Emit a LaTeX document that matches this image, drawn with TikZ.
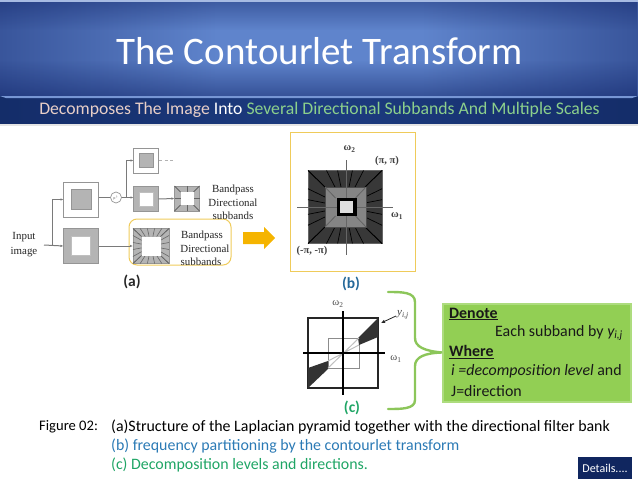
\documentclass[tikz,border=0pt]{standalone}
\usepackage{fontspec}
\setmainfont{Carlito}
\newfontfamily\serifface{Liberation Serif}
\usetikzlibrary{arrows.meta,calc,fadings}
\definecolor{bandedge}{HTML}{12266A}
\definecolor{bandmid}{HTML}{5F84CC}
\definecolor{subedge}{HTML}{10265F}
\definecolor{submid}{HTML}{1D3C80}
\definecolor{lineg}{HTML}{7A7A7A}
\definecolor{boxg}{HTML}{B4B4B4}
\definecolor{boxedge}{HTML}{959595}
\definecolor{frameyel}{HTML}{EFCB5A}
\definecolor{arrowyel}{HTML}{F5B400}
\definecolor{gbrace}{HTML}{8CC65A}
\definecolor{gfill}{HTML}{92CF54}
\definecolor{gedge}{HTML}{ADDC7E}
\definecolor{capblue}{HTML}{2B7AB5}
\definecolor{capgreen}{HTML}{1FA565}
\definecolor{subpink}{HTML}{E8CFC8}
\definecolor{subgreen}{HTML}{8CD08C}
\pgfdeclarehorizontalshading{bandshade}{100bp}{
  color(0bp)=(bandedge); color(8bp)=(bandedge!92!bandmid); color(25bp)=(bandedge!50!bandmid);
  color(42bp)=(bandmid); color(58bp)=(bandmid); color(75bp)=(bandedge!50!bandmid); color(92bp)=(bandedge!92!bandmid); color(100bp)=(bandedge)}
\pgfdeclarehorizontalshading{subshade}{100bp}{
  color(0bp)=(subedge); color(25bp)=(subedge!70!submid); color(50bp)=(submid); color(75bp)=(subedge!70!submid); color(100bp)=(subedge)}
\tikzset{
  conn/.style={draw=lineg,line width=1pt,-{Latex[length=3pt,width=2.5pt]}},
  plainline/.style={draw=lineg,line width=1pt},
  whitebox/.style={draw=boxedge,fill=white,line width=1pt,minimum width=#1,inner sep=0pt,outer sep=0pt,minimum height=#1},
  greybox/.style={draw=boxedge,fill=boxg,line width=1pt,minimum width=#1,inner sep=0pt,outer sep=0pt,minimum height=#1},
  greyin/.style={draw=boxedge,fill=boxg,line width=0.6pt,minimum width=#1,inner sep=0pt,minimum height=#1},
  whitein/.style={draw=boxedge!60,fill=white,line width=0.6pt,minimum width=#1,inner sep=0pt,minimum height=#1},
  serif/.style={font=\serifface\fontsize{10.9}{12}\selectfont,text=black!85,inner sep=0pt},
  capt/.style={font=\fontsize{15.9}{18}\selectfont,inner sep=0pt,anchor=west},
  greentxt/.style={font=\fontsize{15.9}{18}\selectfont,inner sep=0pt,anchor=west,text=black!90},
  tag/.style={font=\bfseries\fontsize{15.5}{18}\selectfont,inner sep=0pt},
  axlabel/.style={font=\serifface\bfseries\fontsize{10.5}{12}\selectfont,text=black!75,inner sep=0pt},
}
% spokes between a centred inner and outer rectangle
\newcommand{\spokes}[7]{%
  \foreach \t in {#7}{%
    \draw (#1+\t*#5,#2-#6) -- (#1+\t*#3,#2-#4);
    \draw (#1+\t*#5,#2+#6) -- (#1+\t*#3,#2+#4);
    \draw (#1-#5,#2+\t*#6) -- (#1-#3,#2+\t*#4);
    \draw (#1+#5,#2+\t*#6) -- (#1+#3,#2+\t*#4);
  }}
\begin{document}
\begin{tikzpicture}[x=1pt,y=-1pt]
\useasboundingbox (0,0) rectangle (638,479);
% header
\shade[shading=bandshade] (0,0) rectangle (638,97);
\fill[bandedge,opacity=0.55,path fading=north] (0,60) rectangle (638,97);
\fill[bandedge,opacity=0.45,path fading=south] (0,0) rectangle (638,30);
\fill[white!45!bandmid] (0,0) rectangle (638,1.5);
\shade[shading=subshade] (0,96) rectangle (638,124);
\fill[bandmid!85!white] (0,96) -- (638,96) -- (632,98) -- (6,98) -- cycle;
\fill[black!10] (0,124) rectangle (638,125.5);
\node[text=white,font=\fontsize{39}{42}\selectfont,inner sep=0pt] (title) at (319.5,51) {The Contourlet Transform};
\node[font=\fontsize{17.7}{20}\selectfont,inner sep=0pt] (subtitle) at (319.5,110) {\textcolor{subpink}{Decomposes The Image} \textcolor{white}{Into} \textcolor{subgreen}{Several Directional Subbands And Multiple Scales}};
% (a) pyramid
\node[draw=frameyel,line width=1pt,rounded corners=8pt,minimum width=102pt,minimum height=46pt,inner sep=0pt] (sel) at (180,242) {};
\node[whitebox=35pt] (upA) at (81,199.5) {};
\node[greyin=20pt] (upAin) at (81,199.5) {};
\node[greybox=35pt] (lowA) at (81,246) {};
\node[whitein=19pt] (lowAin) at (81,246) {};
\node[whitebox=25pt] (topB) at (146,160.5) {};
\node[greyin=14pt] (topBin) at (146,160.5) {};
\node[greybox=25pt] (midB) at (146,199) {};
\node[whitein=14pt] (midBin) at (146,199) {};
\node[greybox=25pt] (midC) at (187,198.5) {};
\begin{scope}[draw=black!60,line width=0.6pt]
\spokes{187}{198.5}{12.5}{12.5}{6.5}{6.5}{-1,0,1}
\end{scope}
\node[whitein=13pt,draw=none] (midCin) at (187,198.5) {};
\node[greybox=35pt,minimum width=36pt] (lowC) at (151,246) {};
\begin{scope}[draw=black!60,line width=0.6pt]
\spokes{151}{246}{18}{17.5}{9.5}{9.5}{-1,-0.6,-0.2,0.2,0.6,1}
\end{scope}
\node[whitein=19pt,draw=none] (lowCin) at (151,246) {};
\node[draw=boxedge,fill=white,circle,line width=0.7pt,minimum size=11pt,inner sep=0pt] (down) at (116,197.5) {};
\node[font=\fontsize{4}{4}\selectfont,text=black!60,inner sep=0pt] (downt) at (116,197.5) {p\textsuperscript{↓}};
\coordinate (inp) at (44,245);
\coordinate (forkA) at (52,245);
\coordinate (forkB) at (126,197.5);
\coordinate (dashS) at (159,160);
\coordinate (dashE) at (174,160);
\draw[conn] (inp) -- (lowA.west);
\draw[conn] (forkA) |- (upA.west);
\draw[plainline] (upA.east |- down) -- (down.west);
\draw[conn] (down.east) -- (midB.west |- down);
\draw[conn] (forkB) |- (topB.west);
\draw[conn] (midB.east) -- (midC.west);
\draw[conn] (lowA.east) -- (lowC.west);
\draw[draw=black!30,line width=0.8pt,dash pattern=on 3pt off 2.5pt] (dashS) -- (dashE);
\node[serif] (inputa) at (24,237.5) {Input};
\node[serif] (inputb) at (24,252.5) {image};
\node[serif] (ba1) at (233,190) {Bandpass};
\node[serif] (ba2) at (233,203) {Directional};
\node[serif] (ba3) at (233,215.5) {subbands};
\node[serif] (bb1) at (202,236) {Bandpass};
\node[serif] (bb2) at (205,248.5) {Directional};
\node[serif] (bb3) at (201,261.5) {subbands};
\fill[arrowyel] (243,232) -- (264,232) -- (264,227) -- (275,238) -- (264,249) -- (264,244) -- (243,244) -- cycle;
\node[tag,text=black!85] (taga) at (132,282) {(a)};
% (b)
\node[draw=frameyel,line width=1pt,minimum width=125pt,minimum height=139pt,inner sep=0pt] (frameb) at (352.5,202) {};
\node[draw=black!60,fill=black!78,minimum width=74pt,minimum height=73pt,inner sep=0pt] (bA) at (345,207) {};
\begin{scope}[draw=black,line width=0.7pt]
\spokes{345}{207}{37}{36.5}{20}{20}{-1,-0.5,-0.2,0.2,0.5,1}
\end{scope}
\node[draw=black!70,fill=black!48,minimum width=41pt,minimum height=40pt,inner sep=0pt] (bB) at (345.5,207) {};
\begin{scope}[draw=black!60,line width=0.6pt]
\spokes{345.5}{207}{20.5}{20}{10}{9}{-1,1}
\end{scope}
\draw[draw=black!60,line width=0.8pt] (297,207) -- (393,207) (346,160) -- (346,255);
\node[fill=black,minimum width=20pt,minimum height=18pt,inner sep=0pt] (bC) at (347,207) {};
\node[fill=black!13,minimum width=13pt,minimum height=12pt,inner sep=0pt] (bD) at (346.5,207) {};
\node[axlabel] (bw2) at (349.5,149) {ω\textsubscript{2}};
\node[axlabel] (bpp) at (387,161) {(π, π)};
\node[axlabel] (bw1) at (397,216) {ω\textsubscript{1}};
\node[axlabel] (bmm) at (312,251) {(-π, -π)};
\node[tag,text=capblue!85!black] (tagb) at (351,284) {(b)};
% (c)
\node[draw=black!85,line width=1.3pt,minimum width=70pt,minimum height=70pt,inner sep=0pt] (cA) at (343,353) {};
\node[draw=black!45,line width=1pt,minimum width=31pt,minimum height=30pt,inner sep=0pt] (cB) at (343.5,353) {};
\fill[black!80] (378,318) -- (378,337) -- (359,345) -- (358,338) -- cycle;
\fill[black!80] (308,368) -- (308,388) -- (328,369) -- (328,361) -- cycle;
\draw[draw=black!25,line width=1pt] (328,368) -- (359,338) (328,361) -- (359,345);
\draw[draw=black,line width=1.2pt] (303,353) -- (385,353) (343,311) -- (343,395);
\node[font=\serifface\fontsize{10.5}{12}\selectfont,text=black!70,inner sep=0pt] (cw2) at (338,304) {ω\textsubscript{2}};
\node[font=\serifface\fontsize{10.5}{12}\selectfont,text=black!70,inner sep=0pt] (cw1) at (396,359) {ω\textsubscript{1}};
\node[font=\serifface\itshape\fontsize{11}{12}\selectfont,text=black!75,inner sep=0pt] (cy) at (403,315) {y\textsubscript{i,j}};
\coordinate (cyend) at (381,323);
\draw[-{Latex[length=4pt,width=3.5pt]},line width=0.8pt,black!85] (cy.west) ++(-1,1) -- (cyend);
\node[tag,text=capgreen] (tagc) at (352,408) {(c)};
% brace
\node[draw=gedge,fill=gfill,line width=2pt,minimum width=188pt,minimum height=98pt,inner sep=0pt] (gbox) at (537,352.5) {};
\coordinate (brT) at (388,292);
\coordinate (brB) at (388,409);
\draw[draw=gbrace,line width=2.4pt,line cap=round]
  (brT) .. controls (402,292) and (415,292) .. (415,302) -- (415,338)
  .. controls (415,347) and (425,351) .. (gbox.west)
  .. controls (425,353) and (415,357) .. (415,366) -- (415,400)
  .. controls (415,409) and (402,409) .. (brB);
\node[greentxt,font=\bfseries\fontsize{15.9}{18}\selectfont] (g1) at (449,314) {\underline{Denote}};
\node[greentxt] (g2) at (495,333) {Each subband by \textit{y\textsubscript{i,j}}};
\node[greentxt,font=\bfseries\fontsize{15.9}{18}\selectfont] (g3) at (449,352) {\underline{Where}};
\node[greentxt] (g4) at (451,371) {\textit{i =decomposition level} and};
\node[greentxt] (g5) at (451,391) {J=direction};
% captions
\node[capt,font=\fontsize{14.6}{18}\selectfont] (f0) at (39,427) {Figure 02:};
\node[capt] (f1) at (111,427) {(a)Structure of the Laplacian pyramid together with the directional filter bank};
\node[capt,text=capblue] (f2) at (111,446) {(b) frequency partitioning by the contourlet transform};
\node[capt,text=capgreen] (f3) at (111,465) {(c) Decomposition levels and directions.};
\node[fill=subedge,text=white,font=\fontsize{12}{14}\selectfont,minimum width=54pt,minimum height=22pt,inner sep=0pt] (det) at (605,468) {Details....};
\end{tikzpicture}
\end{document}
